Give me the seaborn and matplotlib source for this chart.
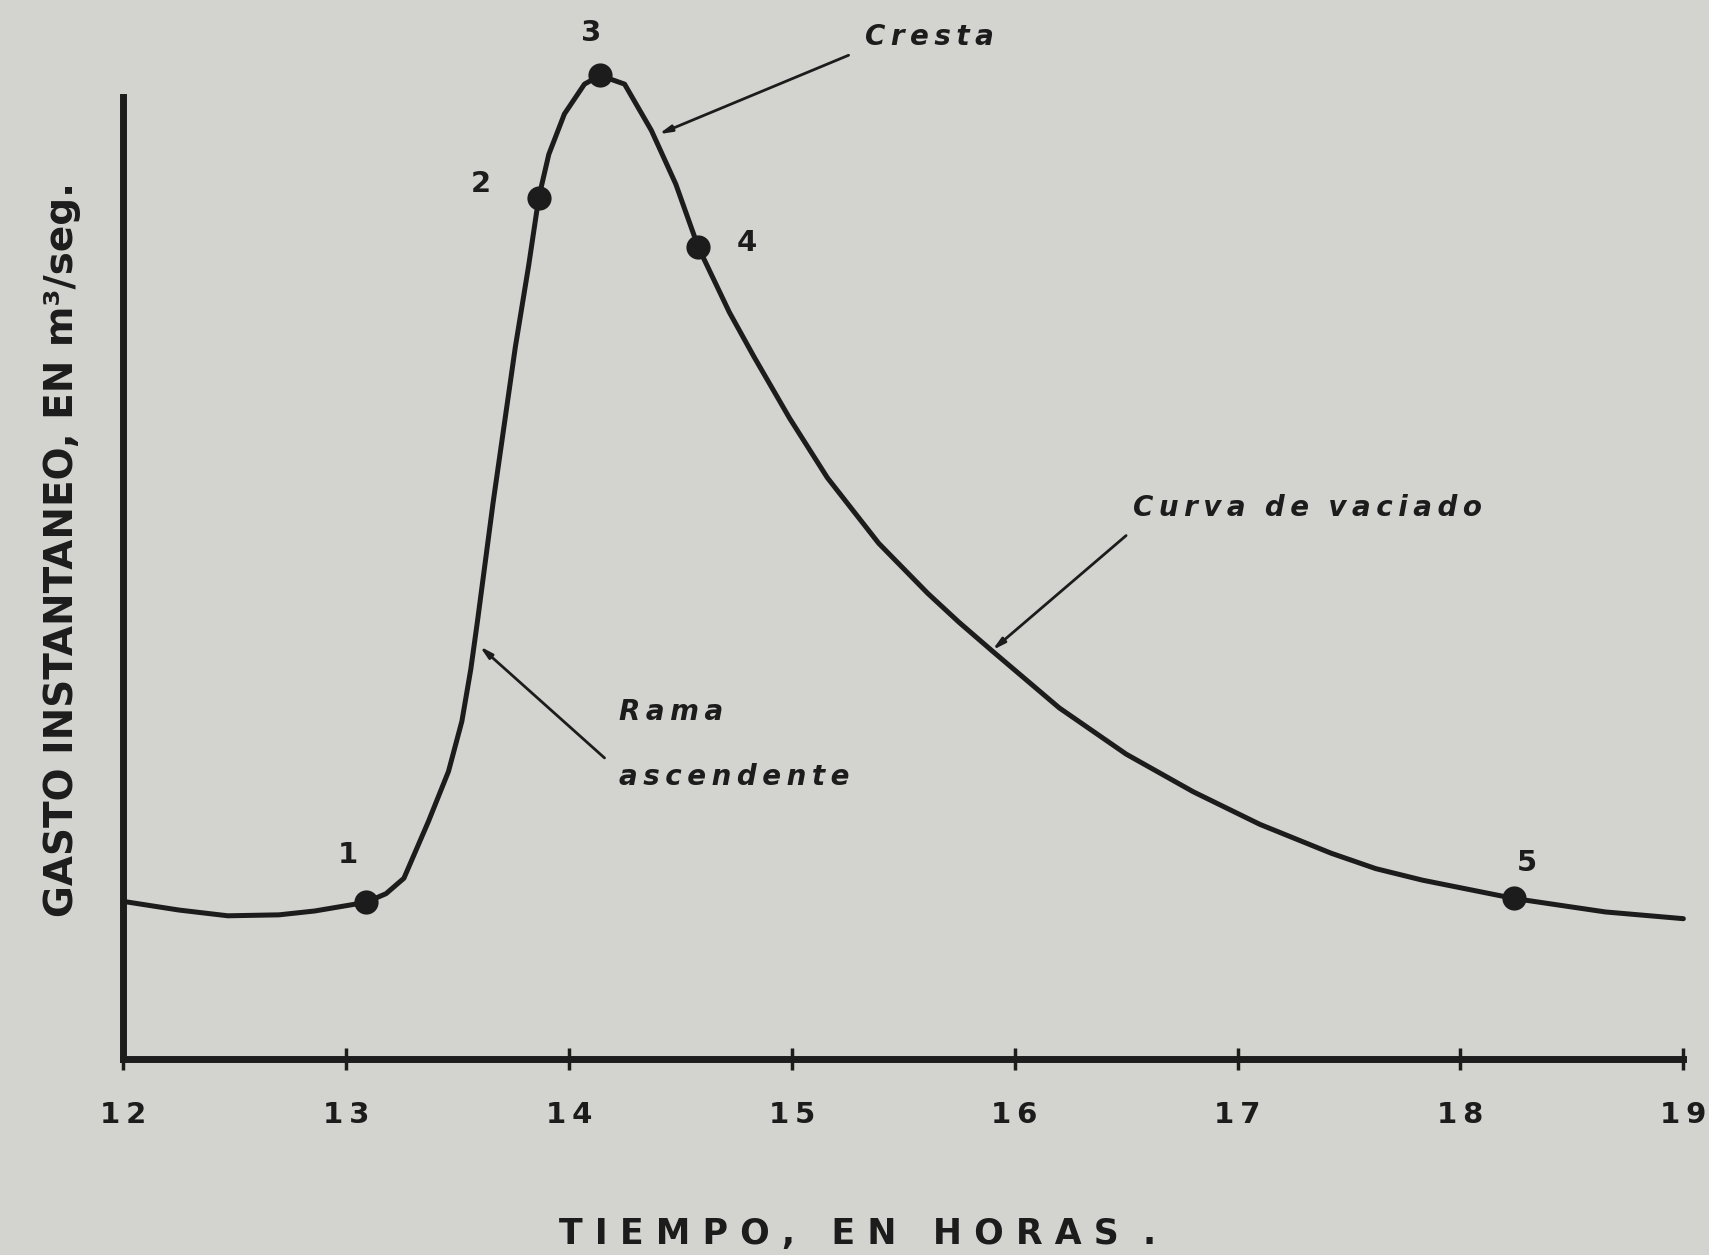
import numpy as np
import pandas as pd
import matplotlib
matplotlib.use("Agg")
import matplotlib.pyplot as plt
import seaborn as sns

# Hydrograph (time in hours, discharge in arbitrary units)
tiempo = [12.00, 12.25, 12.47, 12.70, 12.86, 13.09, 13.18, 13.26, 13.37, 13.46,
          13.52, 13.56, 13.59, 13.66, 13.76, 13.82, 13.865, 13.91, 13.98, 14.07,
          14.14, 14.25, 14.37, 14.48, 14.58, 14.72, 14.83, 14.99, 15.16, 15.39,
          15.61, 15.75, 15.90, 16.20, 16.50, 16.80, 17.10, 17.42, 17.62, 17.83,
          18.24, 18.65, 19.00]
gasto = [1.64, 1.55, 1.49, 1.50, 1.54, 1.63, 1.72, 1.88, 2.47, 2.99,
         3.51, 4.05, 4.55, 5.78, 7.40, 8.25, 8.95, 9.40, 9.82, 10.13,
         10.22, 10.13, 9.65, 9.09, 8.44, 7.76, 7.30, 6.66, 6.04, 5.36,
         4.84, 4.54, 4.24, 3.65, 3.17, 2.78, 2.44, 2.14, 1.98, 1.86,
         1.67, 1.53, 1.46]

# numbered points on the curve
puntos_t = [13.09, 13.865, 14.14, 14.58, 18.24]
puntos_q = [1.63, 8.95, 10.22, 8.44, 1.67]
puntos_lbl = ["1", "2", "3", "4", "5"]
lbl_t = [13.01, 13.605, 14.10, 14.80, 18.30]
lbl_q = [2.12, 9.09, 10.66, 8.48, 2.04]

horas = [12, 13, 14, 15, 16, 17, 18, 19]

bg = "#d3d4cf"
ink = "#1c1c1c"


def espaciar(s):
    # the hand lettering is widely spaced
    return "\u2009".join(s)


sns.set_theme(style="white")
plt.rcParams["font.family"] = ["DejaVu Sans"]

fig = plt.figure(figsize=(17.09, 12.55), dpi=100, facecolor=bg)
ax = fig.add_axes([0.072, 0.156, 0.913, 0.767])
ax.set_facecolor(bg)

df = pd.DataFrame({"t": tiempo, "q": gasto})
sns.lineplot(data=df, x="t", y="q", ax=ax, color=ink, linewidth=3.6,
             sort=False, clip_on=False)

pts = pd.DataFrame({"t": puntos_t, "q": puntos_q})
sns.scatterplot(data=pts, x="t", y="q", ax=ax, color=ink, s=260,
                edgecolor=ink, zorder=5, clip_on=False)

for t, q, s in zip(lbl_t, lbl_q, puntos_lbl):
    ax.text(t, q, s, fontsize=21, fontweight="bold", color=ink,
            ha="center", va="center", clip_on=False)

# leader lines and their labels
flecha = dict(arrowstyle="-|>,head_length=0.6,head_width=0.15", color=ink,
              lw=2, shrinkA=0, shrinkB=0)
ax.annotate("", xy=(14.403, 9.61), xytext=(15.255, 10.43),
            annotation_clip=False, arrowprops=flecha)
ax.annotate("", xy=(15.90, 4.25), xytext=(16.50, 5.44),
            annotation_clip=False, arrowprops=flecha)
ax.annotate("", xy=(13.60, 4.29), xytext=(14.16, 3.13),
            annotation_clip=False, arrowprops=flecha)

estilo = dict(fontsize=20, fontweight="bold", fontstyle="italic", color=ink,
              ha="left", va="center", clip_on=False)
ax.text(15.33, 10.62, espaciar("Cresta"), **estilo)
ax.text(16.53, 5.73, "  ".join(espaciar(w) for w in ["Curva", "de", "vaciado"]),
        **estilo)
ax.text(14.227, 3.61, espaciar("Rama"), **estilo)
ax.text(14.227, 2.93, espaciar("ascendente"), **estilo)

ax.set_xlim(12, 19)
ax.set_ylim(0, 10)
ax.set_xticks(horas)
ax.set_xticklabels([espaciar(str(h)) for h in horas], fontsize=21,
                   fontweight="bold", color=ink)
ax.set_yticks([])
ax.tick_params(axis="x", direction="inout", length=16, width=2.5,
               color=ink, pad=22, bottom=True)
ax.set_xlabel("")
ax.set_ylabel("")

for side in ["top", "right"]:
    ax.spines[side].set_visible(False)
for side in ["left", "bottom"]:
    ax.spines[side].set_color(ink)
    ax.spines[side].set_linewidth(5)

fig.text(0.036, 0.562, "GASTO INSTANTANEO, EN m³/seg.", rotation=90,
         fontsize=28, fontweight="bold", color=ink, ha="center", va="center")
fig.text(0.502, 0.017, "T I E M P O ,   E N   H O R A S  .", fontsize=25,
         fontweight="bold", color=ink, ha="center", va="center")

fig.savefig("out.png", dpi=100, facecolor=bg)
